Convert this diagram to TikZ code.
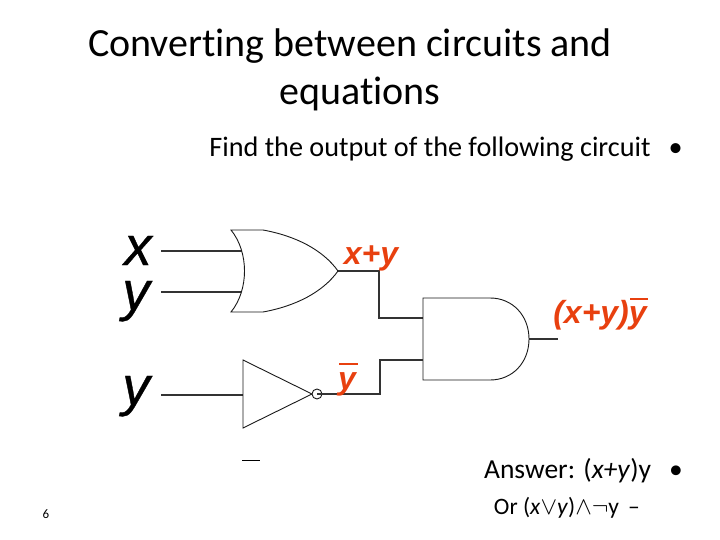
\documentclass[tikz,border=0pt]{standalone}
\usepackage{fontspec}
\setmainfont{Carlito}[Ligatures=NoCommon]
\newfontfamily\arialf{Liberation Sans}
\newfontfamily\varf[UprightFont=* Italic,FakeBold=0.6]{Liberation Sans}
\definecolor{lblred}{HTML}{E8400F}
\tikzset{
  wire/.style={line width=1.1pt,draw=black!80},
  gate/.style={line width=0.9pt,draw=black!90,fill=white,line join=miter},
  ttl/.style={font=\fontsize{40}{40}\selectfont,anchor=center,inner sep=0pt},
  body/.style={font=\fontsize{28.2}{28.2}\selectfont,anchor=base east,inner sep=0pt},
  vari/.style={font=\varf\fontsize{55}{55}\selectfont,anchor=base,inner sep=0pt},
  lbl/.style={font=\arialf\bfseries\itshape\fontsize{32}{32}\selectfont,text=lblred,anchor=base,inner sep=0pt},
}
\begin{document}
\begin{tikzpicture}[x=1pt,y=-1pt]
\useasboundingbox (0,0) rectangle (720,540);
% title and text
\node[ttl] (t1) at (350,46) {Converting between circuits and};
\node[ttl] (t2) at (360,94) {equations};
\node[body] (find) at (683,157) {Find the output of the following circuit\hspace{18pt}•};
\node[body,font=\fontsize{27.5}{27.5}\selectfont] (ans) at (683,478) {Answer: (\textit{x+y})y\hspace{18pt}•};
\node[font=\fontsize{23.5}{23.5}\selectfont,anchor=base east,inner sep=0pt] (ors) at (640,514) {Or (\textit{x}$\vee$\textit{y})$\wedge\neg$y\hspace{9pt}–};
\node[font=\fontsize{13}{13}\selectfont,inner sep=0pt] (pg) at (46,514) {6};
% variables
\node[vari] (vx) at (138,265) {x};
\node[vari] (vy1) at (136,310) {y};
\node[vari] (vy2) at (136,405) {y};
% coordinates
\coordinate (a1) at (161,251);
\coordinate (a2) at (243,251);
\coordinate (b1) at (161,292);
\coordinate (b2) at (243,292);
\coordinate (c1) at (161,395);
\coordinate (c2) at (243,395);
\coordinate (c0) at (217,395);
\coordinate (ortip) at (338,271);
\coordinate (andin1) at (423,318);
\coordinate (andin2) at (423,360);
\coordinate (andout) at (529,339);
\coordinate (out) at (558,339);
\coordinate (bub) at (317,394);
% wires
\draw[wire] (a1) -- (a2);
\draw[wire] (b1) -- (b2);
\draw[wire] (c1) -- (c2);
\draw[line width=1.8pt,draw=black!80] (c0) -- (c2);
\draw[wire] (ortip) -| (379,318) -- (andin1);
\draw[wire] (andout) -- (out);
% gates
\draw[gate] (231,230) -- (263,230) .. controls (296,236) and (323,250) .. (ortip) .. controls (323,292) and (296,306) .. (263,312) -- (231,312) .. controls (249,290) and (249,252) .. cycle;
\draw[gate] (423,298) -- (490,298) .. controls (513,298) and (529,316) .. (andout) .. controls (529,362) and (513,380) .. (490,380) -- (423,380) -- cycle;
\draw[gate] (243,360) -- (312,394) -- (243,428) -- cycle;
\draw[gate] (317,394) circle[radius=5];
\draw[wire] (bub) -- (380,394) |- (andin2);
% labels
\node[lbl] (l1) at (371,264) {x+y};
\node[lbl] (l2) at (600,323) {(x+y)y};
\draw[line width=1.6pt,draw=lblred] (630,299) -- (648,299);
\node[lbl] (l3) at (347,389) {y};
\draw[line width=1.6pt,draw=lblred] (339,364) -- (358,364);
\draw[line width=0.8pt] (242,460) -- (260,460);
\end{tikzpicture}
\end{document}
